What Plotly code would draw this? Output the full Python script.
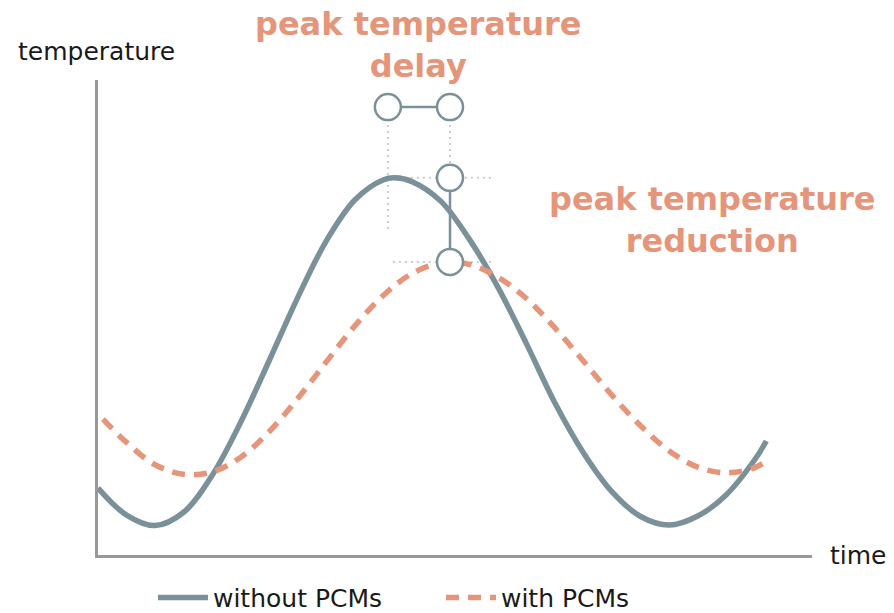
import plotly.graph_objects as go

# Time axis runs 0-100, temperature axis 0-100 (arbitrary units)
time_without = [0.0, 4, 8, 12, 16, 20, 24, 28, 32, 36, 40, 41.6, 44, 48, 52, 56, 60,
                64, 68, 72, 76, 80, 84, 88, 92, 93.6]
temp_without = [14.1, 8.4, 6.2, 9.0, 16.8, 28.0, 41.0, 54.3, 66.2, 74.8, 79.0, 79.4,
                78.6, 74.5, 66.5, 56.4, 44.5, 32.0, 21.5, 13.3, 8.1, 6.3, 8.2, 12.7,
                20.1, 24.0]

time_with = [0.7, 4, 8, 12, 16, 20, 24, 28, 32, 36, 40, 44, 48, 49.3, 52, 56, 60, 64,
             68, 72, 76, 80, 84, 88, 92, 93.6]
temp_with = [28.6, 23.7, 19.0, 17.0, 17.5, 20.6, 26.0, 33.0, 40.7, 48.3, 54.7, 59.3,
             61.6, 61.7, 61.2, 58.5, 54.0, 47.8, 40.8, 33.6, 27.2, 21.9, 18.5, 17.3,
             18.4, 19.8]

# Peak positions used by the annotation markers
peak_time_without = 40.6
peak_time_with = 49.3
peak_temp_without = 79.4
peak_temp_with = 61.7
delay_row = 94.3          # height of the delay bracket
guide_bottom = 68.0       # lower end of the dotted guide under the first peak
guide_start = 41.3        # where the horizontal dotted guides start
guide_end = 55.6          # where the horizontal dotted guides end

series_names = ["without PCMs", "with PCMs"]
label_delay = "peak temperature<br>delay"
label_reduction = "peak temperature<br>reduction"

GREY = "#7b9199"
SALMON = "#e5957a"
DOT = "#cccccc"
AXIS = "#999999"
FONT = "DejaVu Sans"

fig = go.Figure()

# dotted guide lines
guides = [
    ([peak_time_without, peak_time_without], [delay_row, guide_bottom]),
    ([peak_time_with, peak_time_with], [delay_row, peak_temp_without]),
    ([guide_start, guide_end], [peak_temp_without, peak_temp_without]),
    ([guide_start, guide_end], [peak_temp_with, peak_temp_with]),
]
for gx, gy in guides:
    fig.add_trace(go.Scatter(x=gx, y=gy, mode="lines", showlegend=False,
                             hoverinfo="skip",
                             line=dict(color=DOT, width=2, dash="2px,4px")))

fig.add_trace(go.Scatter(x=time_without, y=temp_without, mode="lines",
                         name=series_names[0],
                         line=dict(color=GREY, width=5.5, shape="spline", smoothing=1.0)))
fig.add_trace(go.Scatter(x=time_with, y=temp_with, mode="lines",
                         name=series_names[1],
                         line=dict(color=SALMON, width=5.5, dash="13px,9px",
                                   shape="spline", smoothing=1.0)))

# delay bracket and reduction bracket
marker_style = dict(size=26, color="white", line=dict(color=GREY, width=2.5))
fig.add_trace(go.Scatter(x=[peak_time_without, peak_time_with], y=[delay_row, delay_row],
                         mode="lines+markers", showlegend=False, hoverinfo="skip",
                         line=dict(color=GREY, width=2.5), marker=marker_style))
fig.add_trace(go.Scatter(x=[peak_time_with, peak_time_with],
                         y=[peak_temp_without, peak_temp_with],
                         mode="lines+markers", showlegend=False, hoverinfo="skip",
                         line=dict(color=GREY, width=2.5), marker=marker_style))

fig.add_annotation(x=0.449, y=1.074, xref="paper", yref="paper", text=label_delay,
                   showarrow=False, align="center", xanchor="center", yanchor="middle",
                   font=dict(family=FONT, size=32, color=SALMON, weight="bold"))
fig.add_annotation(x=0.861, y=0.706, xref="paper", yref="paper", text=label_reduction,
                   showarrow=False, align="center", xanchor="center", yanchor="middle",
                   font=dict(family=FONT, size=32, color=SALMON, weight="bold"))
fig.add_annotation(x=-0.002, y=1.059, xref="paper", yref="paper", text="temperature",
                   showarrow=False, xanchor="center", yanchor="middle",
                   font=dict(family=FONT, size=25, color="#1a1a1a"))
fig.add_annotation(x=1.064, y=0.0, xref="paper", yref="paper", text="time",
                   showarrow=False, xanchor="center", yanchor="middle",
                   font=dict(family=FONT, size=25, color="#1a1a1a"))

fig.update_xaxes(range=[0, 100], showline=True, linewidth=3, linecolor=AXIS,
                 showgrid=False, zeroline=False, showticklabels=False, ticks="")
fig.update_yaxes(range=[0, 100], showline=True, linewidth=3, linecolor=AXIS,
                 showgrid=False, zeroline=False, showticklabels=False, ticks="")

fig.update_layout(
    width=894, height=613,
    margin=dict(l=98, r=82, t=80, b=58, autoexpand=False),
    plot_bgcolor="white", paper_bgcolor="white",
    showlegend=True,
    legend=dict(orientation="h", x=0.077, y=-0.09, xanchor="left", yanchor="middle",
                font=dict(family=FONT, size=25, color="#1a1a1a"),
                itemwidth=50, entrywidth=223, entrywidthmode="pixels",
                tracegroupgap=0, bgcolor="rgba(0,0,0,0)"),
)

fig.write_html("out.html")
